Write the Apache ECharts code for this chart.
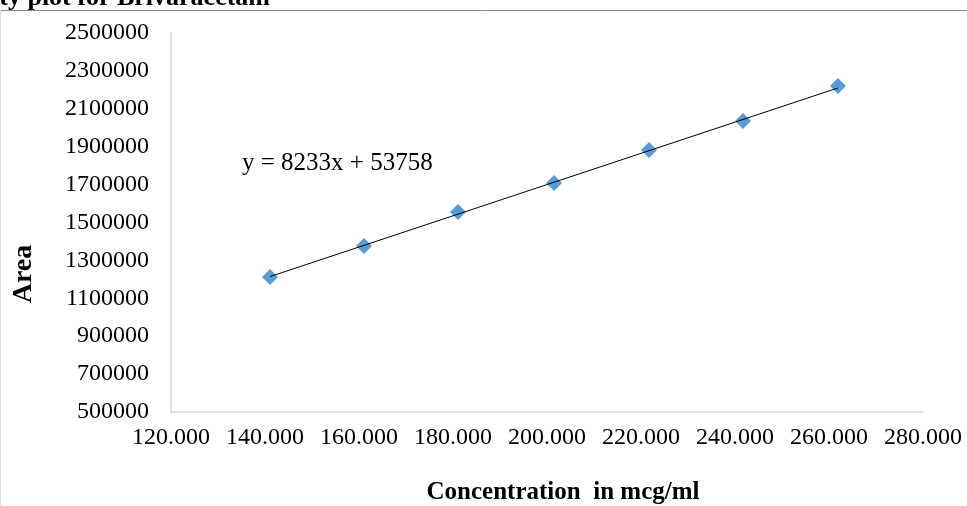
<!DOCTYPE html>
<html>
<head>
<meta charset="utf-8">
<script src="https://cdn.jsdelivr.net/npm/echarts@6/dist/echarts.min.js"></script>
<style>html,body{margin:0;padding:0;background:#fff;}#c{width:967px;height:506px;}</style>
</head>
<body>
<div id="c"></div>
<script>
var concentrations = [141.06, 161.06, 181.06, 201.5, 221.7, 241.7, 261.9];
var areas = [1212400, 1376000, 1555400, 1708400, 1882600, 2035600, 2220300];
var trendX = [141.06, 261.9];
var trendY = [1214600, 2210000];
var equationText = 'y = 8233x + 53758';
var titleText = 'Linearity plot for Brivaracetam';
var xTitle = 'Concentration  in mcg/ml';
var yTitle = 'Area';

var serif = '"Liberation Serif", "Times New Roman", serif';
var chart = echarts.init(document.getElementById('c'));
chart.setOption({
  animation: false,
  backgroundColor: '#fff',
  grid: {left: 171, right: 44, top: 33, bottom: 94, containLabel: false, outerBoundsMode: 'none'},
  xAxis: {
    type: 'value', min: 120, max: 280, interval: 20,
    axisLine: {show: true, lineStyle: {color: '#d9d9d9', width: 1.5}},
    axisTick: {show: false},
    splitLine: {show: false},
    axisLabel: {fontFamily: serif, fontSize: 24, color: '#000', margin: 14,
      formatter: function (v) { return v.toFixed(3); }}
  },
  yAxis: {
    type: 'value', min: 500000, max: 2500000, interval: 200000,
    axisLine: {show: true, lineStyle: {color: '#d9d9d9', width: 1.5}},
    axisTick: {show: false},
    splitLine: {show: false},
    axisLabel: {fontFamily: serif, fontSize: 24, color: '#000', margin: 22,
      formatter: function (v) { return String(v); }}
  },
  series: [
    {
      type: 'line',
      data: trendX.map(function (x, i) { return [x, trendY[i]]; }),
      symbol: 'none',
      lineStyle: {color: '#000', width: 1},
      z: 3
    },
    {
      type: 'scatter',
      data: concentrations.map(function (x, i) { return [x, areas[i]]; }),
      symbol: 'diamond',
      symbolSize: 16,
      itemStyle: {color: '#5b9bd5', opacity: 1},
      z: 2
    }
  ],
  graphic: [
    {type: 'line', shape: {x1: 0, y1: 10.5, x2: 967, y2: 10.5}, style: {stroke: '#8c8c8c', lineWidth: 1}},
    {type: 'line', shape: {x1: 0.5, y1: 10, x2: 0.5, y2: 506}, style: {stroke: '#e0e0e0', lineWidth: 1}},
    {type: 'text', x: 270, y: 11, style: {text: titleText, font: 'bold 26px ' + serif, fill: '#000', textAlign: 'right', textVerticalAlign: 'bottom'}},
    {type: 'text', x: 242, y: 163, style: {text: equationText, font: '25px ' + serif, fill: '#000', textAlign: 'left', textVerticalAlign: 'middle'}},
    {type: 'text', x: 24, y: 274, rotation: Math.PI / 2, style: {text: yTitle, font: 'bold 28px ' + serif, fill: '#000', textAlign: 'center', textVerticalAlign: 'middle'}},
    {type: 'text', x: 563, y: 493, style: {text: xTitle, font: 'bold 25px ' + serif, fill: '#000', textAlign: 'center', textVerticalAlign: 'middle'}}
  ]
});
</script>
</body>
</html>
